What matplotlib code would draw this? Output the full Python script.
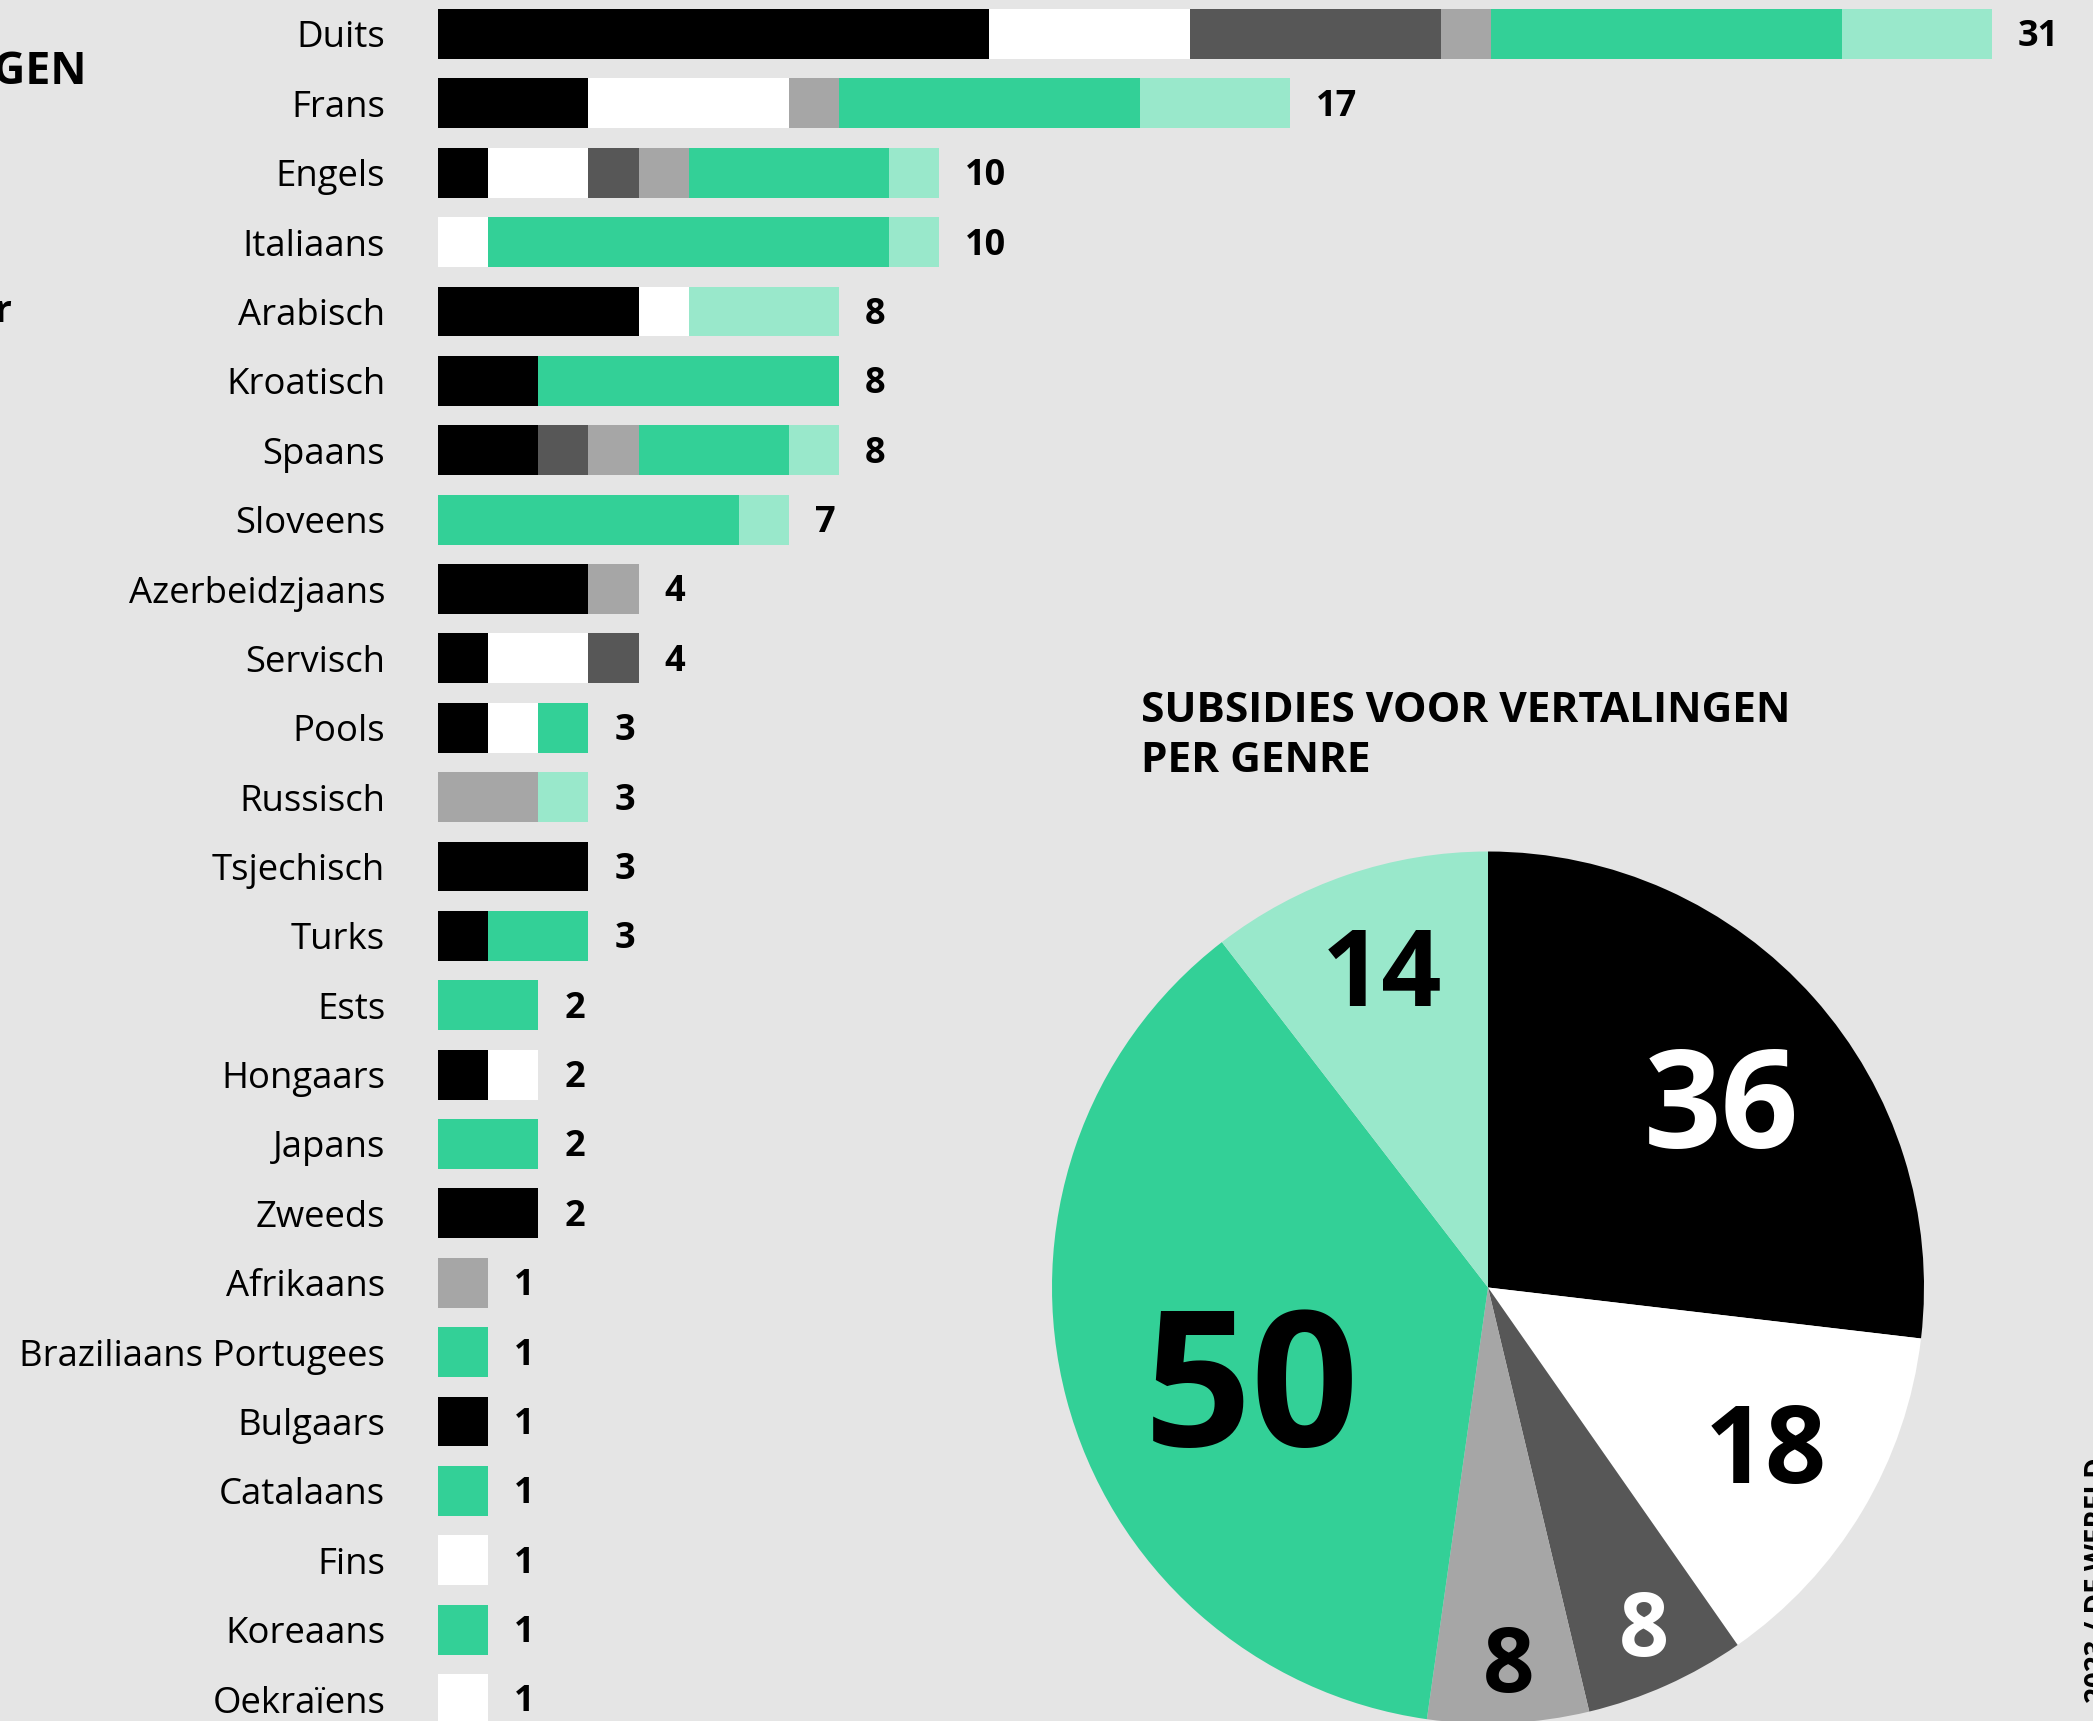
import matplotlib
matplotlib.use("Agg")
import matplotlib.pyplot as plt
import numpy as np

plt.rcParams['font.family'] = ['Open Sans', 'DejaVu Sans']

# ---------------- data ----------------
languages = ["Duits", "Frans", "Engels", "Italiaans", "Arabisch", "Kroatisch", "Spaans",
             "Sloveens", "Azerbeidzjaans", "Servisch", "Pools", "Russisch", "Tsjechisch",
             "Turks", "Ests", "Hongaars", "Japans", "Zweeds", "Afrikaans",
             "Braziliaans Portugees", "Bulgaars", "Catalaans", "Fins", "Koreaans", "Oekraïens"]
genres = ["zwart", "wit", "donkergrijs", "lichtgrijs", "groen", "lichtgroen"]
seg_black      = [11, 3, 1, 0, 4, 2, 2, 0, 3, 1, 1, 0, 3, 1, 0, 1, 0, 2, 0, 0, 1, 0, 0, 0, 0]
seg_white      = [4, 4, 2, 1, 1, 0, 0, 0, 0, 2, 1, 0, 0, 0, 0, 1, 0, 0, 0, 0, 0, 0, 1, 0, 1]
seg_darkgrey   = [5, 0, 1, 0, 0, 0, 1, 0, 0, 1, 0, 0, 0, 0, 0, 0, 0, 0, 0, 0, 0, 0, 0, 0, 0]
seg_lightgrey  = [1, 1, 1, 0, 0, 0, 1, 0, 1, 0, 0, 2, 0, 0, 0, 0, 0, 0, 1, 0, 0, 0, 0, 0, 0]
seg_green      = [7, 6, 4, 8, 0, 6, 3, 6, 0, 0, 1, 0, 0, 2, 2, 0, 2, 0, 0, 1, 0, 1, 0, 1, 0]
seg_lightgreen = [3, 3, 1, 1, 3, 0, 1, 1, 0, 0, 0, 1, 0, 0, 0, 0, 0, 0, 0, 0, 0, 0, 0, 0, 0]

pie_values = [36, 18, 8, 8, 50, 14]
pie_labels = ["36", "18", "8", "8", "50", "14"]

colors = ["#000000", "#ffffff", "#575757", "#a6a6a6", "#33d097", "#99e8cb"]
bg = "#e5e5e5"

# ---------------- figure ----------------
W, H = 2093, 1721
fig = plt.figure(figsize=(W / 100, H / 100), dpi=100, facecolor=bg)

# bar axes (pixel geometry)
x0_px = 438
unit_px = 50.13
xmax = 32
row0_px = 34
pitch_px = 69.375
n = len(languages)
top_px = row0_px - 0.5 * pitch_px
bot_px = row0_px + (n - 0.5) * pitch_px
ax = fig.add_axes([x0_px / W, (H - bot_px) / H, xmax * unit_px / W, (bot_px - top_px) / H])
ax.set_facecolor("none")
y = np.arange(n)
left = np.zeros(n)
for seg, c in zip([seg_black, seg_white, seg_darkgrey, seg_lightgrey, seg_green, seg_lightgreen], colors):
    seg = np.array(seg)
    ax.barh(y, seg, left=left, height=0.72, color=c, linewidth=0)
    left += seg
for i, tot in enumerate(left):
    ax.text(tot + 26 / unit_px, i + 0.05, f"{int(tot)}", va="center", ha="left",
            fontsize=26, fontweight="bold", color="#000000")
ax.set_xlim(0, xmax)
ax.set_ylim(n - 0.5, -0.5)
ax.set_yticks(y)
ax.set_yticklabels(languages, fontsize=26.3, va="center_baseline")
ax.tick_params(axis="y", length=0, pad=38)
ax.set_xticks([])
for s in ax.spines.values():
    s.set_visible(False)

# left title (cut off by figure edge)
fig.text(87 / W, 1 - 72 / H, "SUBSIDIES VOOR VERTALINGEN", ha="right", va="center",
         fontsize=32, fontweight="bold", color="#000000")
fig.text(12 / W, 1 - 312 / H, "per taal en genre, aantal per literair genre voor", ha="right", va="center",
         fontsize=27, fontweight="bold", color="#000000")

# pie
cx, cy, r = 1488, 1287.5, 436
pax = fig.add_axes([(cx - r) / W, (H - cy - r) / H, 2 * r / W, 2 * r / H])
pax.set_facecolor("none")
pax.pie(pie_values, colors=colors, startangle=90, counterclock=False,
        wedgeprops=dict(linewidth=0), radius=1)
pax.set_xlim(-1, 1)
pax.set_ylim(-1, 1)
pax.set_aspect("auto")
pax.axis("off")

lab_pos = [(0.535, 0.439), (0.638, -0.355), (0.358, -0.768), (0.047, -0.85), (-0.542, -0.199), (-0.243, 0.739)]
lab_size = [98, 77, 63, 65, 136, 76]
lab_col = ["#ffffff", "#000000", "#ffffff", "#000000", "#000000", "#000000"]
for (px, py), t, s, c in zip(lab_pos, pie_labels, lab_size, lab_col):
    pax.text(px, py, t, ha="center", va="center_baseline", fontsize=s, fontweight="bold", color=c)

# pie title
fig.text(1141 / W, 1 - 691 / H, "SUBSIDIES VOOR VERTALINGEN\nPER GENRE", ha="left", va="top",
         fontsize=30.5, fontweight="bold", color="#000000", linespacing=1.28)

# credit (rotated, cut off at right edge)
fig.text(2084 / W, 1 - 1703 / H, "2023 / DE WERELD", rotation=90, ha="left", va="bottom",
         fontsize=20, fontweight="bold", color="#000000")

fig.savefig("out.png", dpi=100, facecolor=bg)
